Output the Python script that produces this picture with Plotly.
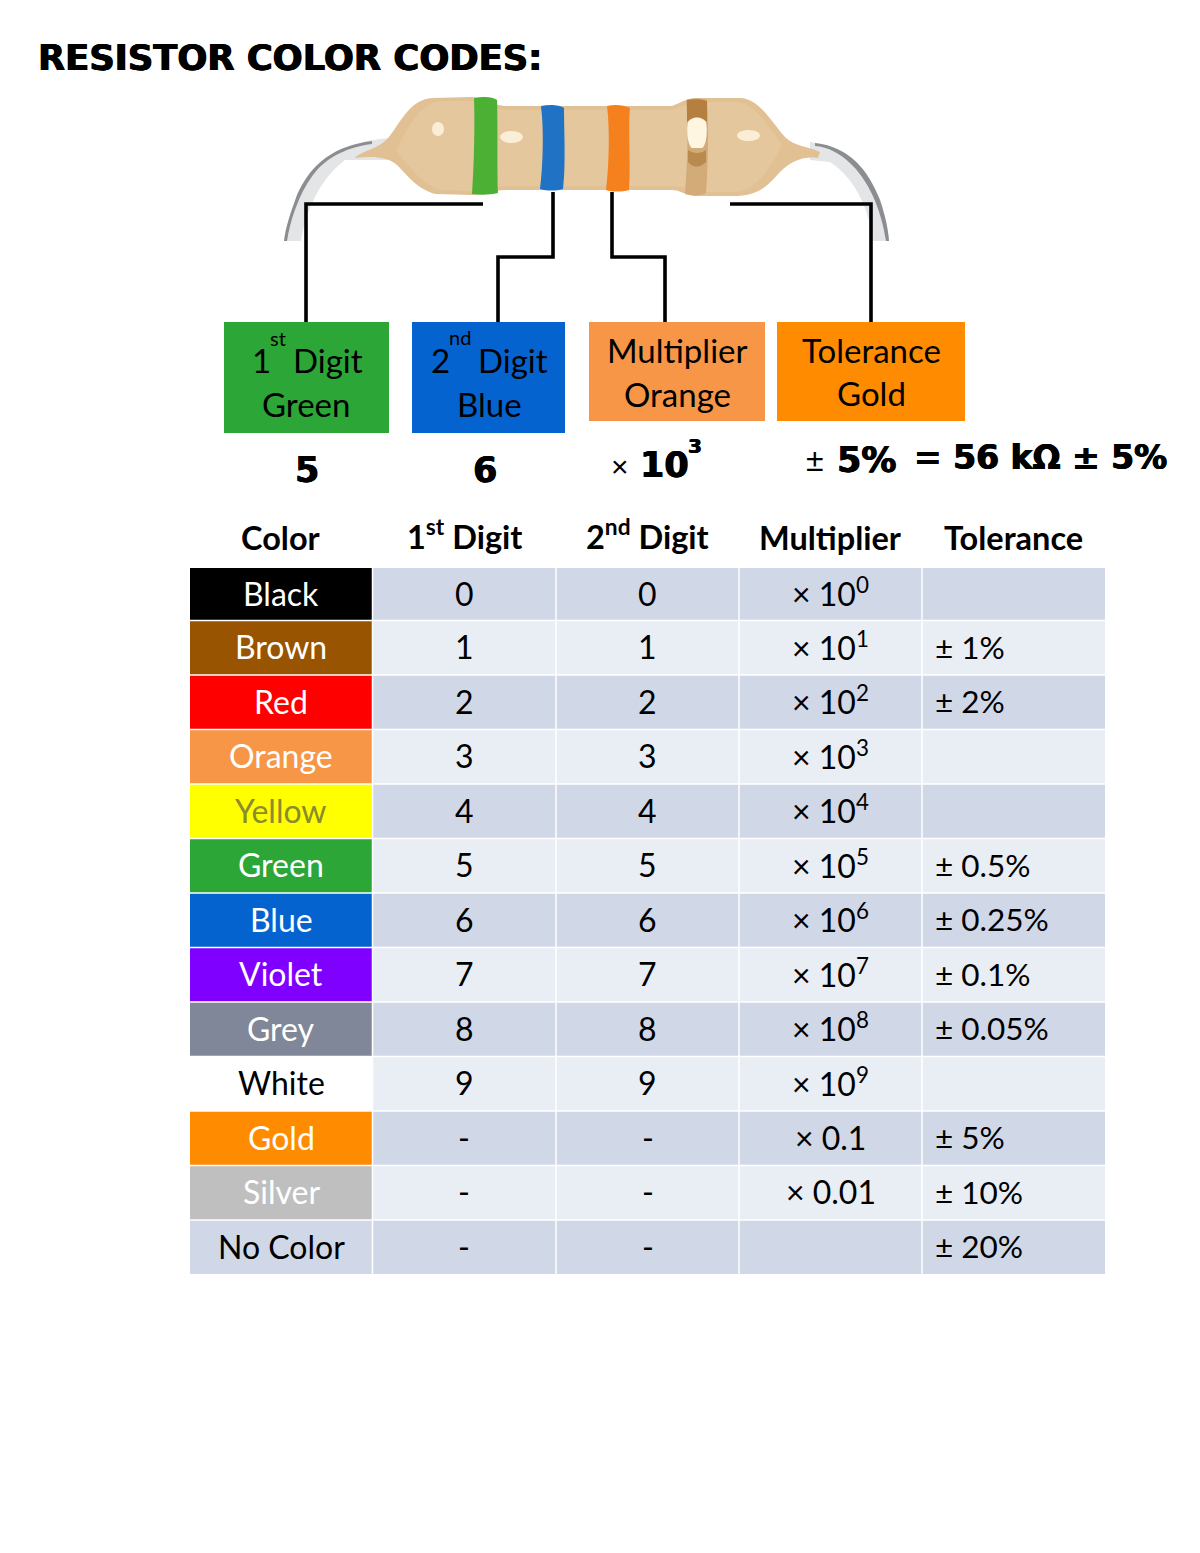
import plotly.graph_objects as go

# ---------- table data ----------
color_names = ["Black","Brown","Red","Orange","Yellow","Green","Blue","Violet","Grey","White","Gold","Silver","No Color"]
first_digit = ["0","1","2","3","4","5","6","7","8","9","-","-","-"]
second_digit = ["0","1","2","3","4","5","6","7","8","9","-","-","-"]
multiplier = ["× 10<sup>%d</sup>" % n for n in [0,1,2,3,4,5,6,7,8,9]] + ["× 0.1","× 0.01",""]
tolerance = ["","± 1%","± 2%","","","± 0.5%","± 0.25%","± 0.1%","± 0.05%","","± 5%","± 10%","± 20%"]
headers = ["Color","1<sup>st</sup> Digit","2<sup>nd</sup> Digit","Multiplier","Tolerance"]
swatches = ["#000000","#985400","#FF0000","#F79646","#FFFF00","#2CA636","#0563D0","#7F00FF","#7F8799","#FFFFFF","#FF8C00","#BFBFBF","#D0D8E8"]
swatch_text = ["#FFFFFF"]*4 + ["#8A8A30"] + ["#FFFFFF"]*4 + ["#000000"] + ["#FFFFFF"]*2 + ["#000000"]
band_a, band_b = "#D0D8E8", "#E9EDF4"

FONT = "Lato"
HEAVY = "DejaVu Sans"
W, H = 1200, 1553
fig = go.Figure()
fig.add_trace(go.Scatter(x=[], y=[], hoverinfo="skip", showlegend=False))

def text(x, y, s, size, family=FONT, color="#000000", anchor="center", heavy=False):
    f = dict(family=family, size=size, color=color)
    if heavy:
        f["shadow"] = "0.6px 0 0 #000, -0.6px 0 0 #000"
    fig.add_annotation(x=x, y=y, xref="x", yref="y", text=s, showarrow=False, font=f,
                       xanchor=anchor, yanchor="middle")

# ---------- table ----------
col_edges = [190, 372.5, 556, 739, 922, 1105]
row_edges = [568, 620.5, 675, 729.5, 784, 838.5, 893, 947.5, 1002, 1056.5, 1111, 1165.5, 1220, 1274]
columns = [color_names, first_digit, second_digit, multiplier, tolerance]
for r in range(13):
    y0, y1 = row_edges[r], row_edges[r+1]
    cy = (y0 + y1) / 2
    for c in range(5):
        x0, x1 = col_edges[c], col_edges[c+1]
        fill = swatches[r] if c == 0 else (band_a if r % 2 == 0 else band_b)
        fig.add_shape(type="rect", x0=x0 + (0.75 if c else 0), x1=x1 - (0.75 if c < 4 else 0),
                      y0=y0 + (0.75 if r else 0), y1=y1 - (0.75 if r < 12 else 0), xref="x", yref="y",
                      fillcolor=fill, line_width=0, layer="below")
        s = columns[c][r]
        if not s:
            continue
        tc = swatch_text[r] if c == 0 else "#000000"
        if c == 4:
            text(x0 + 11, cy - 1, s, 31.5, color=tc, anchor="left")
        else:
            text((x0 + x1) / 2, cy - (2 if "<sup>" in s else 1), s, 32, color=tc)
for c, h in enumerate(headers):
    text((col_edges[c] + col_edges[c+1]) / 2, 537.5 - (3 if "<sup>" in h else 0), "<b>%s</b>" % h, 32.5)

# ---------- resistor drawing ----------
def add_path(d, fill, line=None, w=0, opacity=1):
    fig.add_shape(type="path", path=d, xref="x", yref="y", fillcolor=fill, opacity=opacity,
                  line=dict(color=line or fill, width=w), layer="below")

# leads
add_path("M 389 138 C 340 142 312 160 297 195 C 291 212 286 225 284 241 L 301 241 C 305 215 318 180 345 160 L 389 160 Z", "#E4E5E7")
add_path("M 372 141 C 335 146 312 162 297 195 C 291 212 286 225 284 241 L 287 241 C 290 222 298 195 313 175 C 328 155 350 147 372 144 Z", "#8B8D90")
add_path("M 810 142 C 850 146 868 170 880 200 C 885 215 888 228 889 241 L 873 241 C 870 215 858 180 830 162 L 810 160 Z", "#E4E5E7")
add_path("M 815 143 C 850 147 868 170 880 200 C 885 215 888 228 889 241 L 886 241 C 882 215 872 185 852 165 C 840 153 828 147 815 146 Z", "#8B8D90")

# body
body = ("M 355 158 C 362 150 378 150 389 137 C 402 120 410 100 432 98 L 472 97 C 485 98 490 105 505 106 "
        "L 672 106 C 680 103 685 99 695 98 L 741 98 C 760 100 770 120 785 137 C 795 147 808 146 820 152 "
        "L 818 158 C 805 156 792 160 780 172 C 768 185 760 195 738 196 L 695 196 C 685 195 680 190 672 190 "
        "L 505 190 C 495 190 485 195 472 195 L 436 194 C 418 190 408 176 397 165 C 388 157 372 156 355 158 Z")
add_path(body, "#E1C094")
inner = ("M 396 150 C 408 128 420 103 440 101 L 472 101 C 490 106 495 110 510 110 L 670 110 C 680 108 690 102 700 102 "
         "L 738 102 C 755 105 768 125 782 145 C 768 172 755 191 735 192 L 700 192 C 688 188 680 186 670 186 "
         "L 510 186 C 495 186 485 191 470 191 L 440 190 C 425 186 410 168 396 150 Z")
add_path(inner, "#E5C79E")

# bands
add_path("M 474 98 C 485 96 493 97 497 100 C 498 125 497 170 498 193 C 490 195 480 195 472 194 C 474 165 475 125 474 98 Z", "#4CB034")
add_path("M 541 106 C 550 104 560 105 564 108 C 564 130 566 165 563 189 C 556 191 547 191 540 189 C 543 165 544 130 541 106 Z", "#1F72C4")
add_path("M 607 106 C 615 104 624 105 630 108 C 628 130 631 165 629 190 C 622 192 612 192 606 190 C 609 165 610 130 607 106 Z", "#F5811E")
add_path("M 686 100 C 692 98 702 98 707 100 C 709 130 708 165 706 193 C 700 196 692 196 685 194 C 687 165 689 130 686 100 Z", "#D2AB78")
add_path("M 687 100 C 692 99 702 99 707 101 L 707 122 C 700 116 693 116 687 122 Z", "#B5803F")
add_path("M 688 150 C 693 154 701 154 706 150 L 706 162 C 700 168 693 168 688 162 Z", "#B98A4E")
add_path("M 688 122 C 692 116 702 116 706 122 C 708 132 706 146 702 148 L 692 148 C 688 146 686 132 688 122 Z", "#FFF6E2")

# highlights
for x0, y0, x1, y1 in [(432,122,444,136),(500,131,523,143),(737,130,760,141)]:
    fig.add_shape(type="circle", x0=x0, y0=y0, x1=x1, y1=y1, xref="x", yref="y",
                  fillcolor="#FFF4E0", line_width=0, opacity=0.85, layer="below")

# connectors
for d in ["M 483 204 L 306 204 L 306 322", "M 553 192 L 553 257 L 498 257 L 498 322",
          "M 612 192 L 612 257 L 665 257 L 665 322", "M 730 204 L 871 204 L 871 322"]:
    fig.add_shape(type="path", path=d, xref="x", yref="y", line=dict(color="#000000", width=3.6), layer="below")

# boxes
for x0, y0, x1, y1, c in [(224,322,389,433,"#2CA636"),(412,322,565,433,"#0563D0"),
                          (589,322,765,421,"#F79646"),(777,322,965,421,"#FF8C00")]:
    fig.add_shape(type="rect", x0=x0, y0=y0, x1=x1, y1=y1, xref="x", yref="y",
                  fillcolor=c, line_width=0, layer="below")

# ---------- text ----------
text(36, 57, "<b>RESISTOR COLOR CODES:</b>", 35.3, HEAVY, anchor="left", heavy=True)

text(261, 360, "1", 33); text(278, 338, "st", 20); text(328, 360, "Digit", 33); text(306, 404, "Green", 33)
text(440, 360, "2", 33); text(460, 337, "nd", 20); text(513, 360, "Digit", 33); text(489, 404, "Blue", 33)
text(677, 350, "Multiplier", 33); text(677, 394, "Orange", 33)
text(871, 350, "Tolerance", 33); text(871, 393, "Gold", 33)

text(307, 470, "<b>5</b>", 35, HEAVY, heavy=True)
text(485, 470, "<b>6</b>", 35, HEAVY, heavy=True)
text(620, 466, "×", 30, "Liberation Sans")
text(664, 465, "<b>10</b>", 35, HEAVY, heavy=True)
text(695, 446, "<b>3</b>", 20, HEAVY, heavy=True)
text(815, 460, "±", 32, "Liberation Sans")
text(866, 460, "<b>5%</b>", 35, HEAVY, heavy=True)
text(1040, 457, "<b>= 56 kΩ ± 5%</b>", 33, HEAVY, heavy=True)

fig.update_layout(
    width=W, height=H, margin=dict(l=0, r=0, t=0, b=0), showlegend=False,
    paper_bgcolor="#FFFFFF", plot_bgcolor="#FFFFFF",
    xaxis=dict(range=[0, W], visible=False, fixedrange=True),
    yaxis=dict(range=[H, 0], visible=False, fixedrange=True),
)
fig.write_html("out.html", config=dict(displayModeBar=False),
               post_script="document.body.style.margin='0';")
